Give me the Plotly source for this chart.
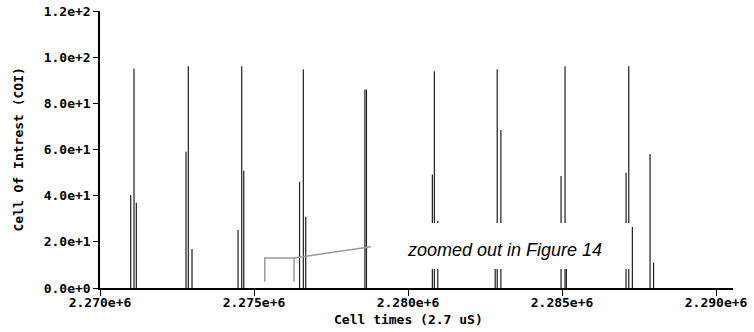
import plotly.graph_objects as go

# Cell arrival times (in 2.7 uS units) and the cell-of-interest count at each
cell_times = [
    2270997, 2271104, 2271179,
    2272792, 2272867, 2272987,
    2274481, 2274601, 2274666,
    2276478, 2276601, 2276679,
    2278600, 2278650,
    2280790, 2280855, 2280965,
    2282830, 2282895, 2283015,
    2284968, 2285097, 2285140,
    2287078, 2287166, 2287283,
    2287857, 2287971,
]
coi_values = [
    40.3, 95.1, 36.9,
    59.0, 96.1, 16.9,
    25.1, 96.1, 50.8,
    46.0, 94.8, 30.9,
    86.0, 86.0,
    49.2, 93.9, 29.0,
    20.0, 94.8, 68.4,
    48.5, 96.1, 28.3,
    49.9, 96.1, 26.4,
    58.0, 11.0,
]

y_tick_vals = [0, 20, 40, 60, 80, 100, 120]
y_tick_text = ["0.0e+0", "2.0e+1", "4.0e+1", "6.0e+1", "8.0e+1", "1.0e+2", "1.2e+2"]
x_tick_vals = [2270000, 2275000, 2280000, 2285000, 2290000]
x_tick_text = ["2.270e+6", "2.275e+6", "2.280e+6", "2.285e+6", "2.290e+6"]

x_title = "Cell times (2.7 uS)"
y_title = "Cell Of Intrest (COI)"

axis_font = dict(family="DejaVu Sans Mono", size=13, color="black", weight="bold")

# Each cell is drawn as a thin vertical spike from zero up to its value
spike_x, spike_y = [], []
for t, v in zip(cell_times, coi_values):
    spike_x += [t, t, None]
    spike_y += [0, v, None]

fig = go.Figure()
fig.add_trace(go.Scatter(
    x=spike_x,
    y=spike_y,
    mode="lines",
    line=dict(color="#1e1e1e", width=1.2),
    showlegend=False,
    hoverinfo="x+y",
    cliponaxis=False,
))

# Callout: white label box, bracket and leader line
gray = "#9a9a9a"
fig.add_shape(type="rect", xref="x", yref="y",
              x0=2279650, x1=2287225, y0=8.2, y1=28.2,
              fillcolor="white", line=dict(width=0), layer="above")
fig.add_shape(type="path", xref="x", yref="y",
              path="M 2275350,2.7 L 2275350,13 L 2276300,13 L 2276300,2.7",
              line=dict(color=gray, width=1.5), layer="above")
fig.add_shape(type="line", xref="x", yref="y",
              x0=2276300, y0=13, x1=2278790, y1=17.9,
              line=dict(color=gray, width=1.5), layer="above")
fig.add_annotation(
    x=2283120, y=17.6, xref="x", yref="y", yshift=-3,
    text="zoomed out in Figure 14", showarrow=False,
    font=dict(family="Liberation Sans", size=18, color="black", style="italic"),
)

# Axis titles
fig.add_annotation(
    x=0.4866, y=-0.112, xref="paper", yref="paper",
    xanchor="center", yanchor="middle",
    text=x_title, showarrow=False, font=axis_font,
)
fig.add_annotation(
    x=-0.1295, y=0.5, xref="paper", yref="paper",
    xanchor="center", yanchor="middle", textangle=-90,
    text=y_title, showarrow=False, font=axis_font,
)

fig.update_layout(
    width=754, height=332,
    margin=dict(l=100, r=21, t=11, b=44),
    paper_bgcolor="white", plot_bgcolor="white",
    xaxis=dict(
        range=[2270000, 2290550],
        automargin=False,
        tickmode="array", tickvals=x_tick_vals, ticktext=x_tick_text,
        ticks="outside", ticklen=6, tickwidth=1, tickcolor="black",
        ticklabelstandoff=-4,
        showline=True, linecolor="black", linewidth=1.5,
        showgrid=False, zeroline=False,
        tickfont=axis_font,
    ),
    yaxis=dict(
        range=[0, 120],
        automargin=False,
        tickmode="array", tickvals=y_tick_vals, ticktext=y_tick_text,
        ticks="outside", ticklen=5, tickwidth=1, tickcolor="black",
        showline=True, linecolor="black", linewidth=1.5,
        showgrid=False, zeroline=False,
        tickfont=axis_font,
    ),
)

fig.write_html("out.html")
